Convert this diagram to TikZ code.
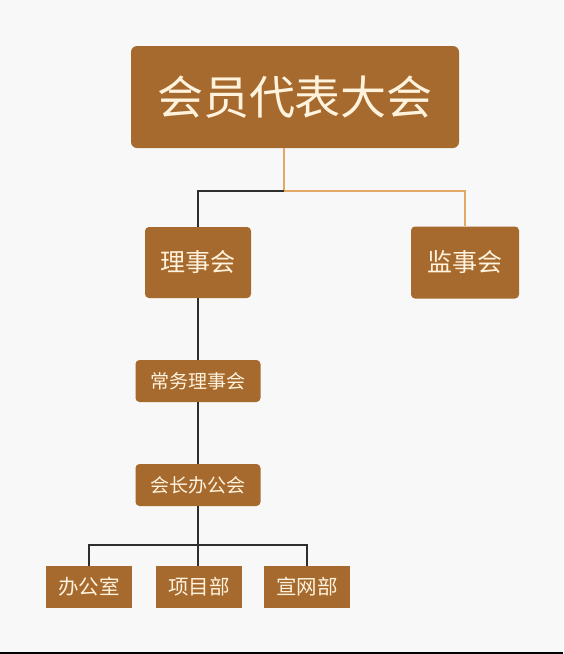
\documentclass[tikz,border=0pt]{standalone}
\usepackage{fontspec}
\newfontfamily\cjk{Noto Sans CJK SC}
\definecolor{BoxBrown}{HTML}{A66A2E}
\definecolor{TextCream}{HTML}{FFF3DE}
\definecolor{LineOrange}{HTML}{E3A865}
\definecolor{LineDark}{HTML}{2E2E2E}
\definecolor{PageGray}{HTML}{F8F8F8}
\usepackage{tikz}
\usetikzlibrary{positioning, calc}

\begin{document}
\begin{tikzpicture}[
  x=1pt, y=-1pt,
  box/.style={rectangle, fill=BoxBrown, text=TextCream, inner sep=0pt,
              font=\cjk},
  link/.style={draw=LineDark, line width=1.8pt},
  olink/.style={draw=LineOrange, line width=1.5pt},
]
\fill[PageGray] (0,0) rectangle (563,654);
\useasboundingbox (0,0) rectangle (563,654);
\draw[black, line width=2pt] (0,653) -- (563,653);

% top level
\node[box, rounded corners=6pt, minimum width=328pt, minimum height=102pt,
      font=\cjk\fontsize{46}{50}\selectfont] (dahui) at (295,97) {会员代表大会};

% second level
\node[box, rounded corners=4pt, minimum width=106pt, minimum height=71pt,
      font=\cjk\fontsize{25}{29}\selectfont] (lishi) at (198,262.5) {理事会};
\node[box, rounded corners=4pt, minimum width=108pt, minimum height=72pt,
      font=\cjk\fontsize{25}{29}\selectfont] (jianshi) at (465,262.5) {监事会};

\node[box, rounded corners=4pt, minimum width=125pt, minimum height=42pt,
      font=\cjk\fontsize{19}{22}\selectfont] (changwu) at (198,381) {常务理事会};
\node[box, rounded corners=4pt, minimum width=125pt, minimum height=42pt,
      font=\cjk\fontsize{19}{22}\selectfont] (huizhang) at (198,485) {会长办公会};

% departments
\foreach \x/\name/\txt in {89/bangong/办公室, 199/xiangmu/项目部, 307/xuanwang/宣网部} {
  \node[box, minimum width=86pt, minimum height=42pt,
        font=\cjk\fontsize{20.5}{24}\selectfont] (\name) at (\x,587) {\txt};
}

\coordinate (split) at (284,191);
\coordinate (fork) at (198,545);

\draw[olink] (dahui.south -| split) -- (split) -| (jianshi.north);
\draw[link] (split) -| (lishi.north);
\draw[link] (lishi.south) -- (changwu.north);
\draw[link] (changwu.south) -- (huizhang.north);
\draw[link] (huizhang.south) -- (fork);
\draw[link] (bangong.north) |- (fork) -| (xuanwang.north);
\draw[link] (fork) -- (xiangmu.north -| fork);
\end{tikzpicture}
\end{document}
